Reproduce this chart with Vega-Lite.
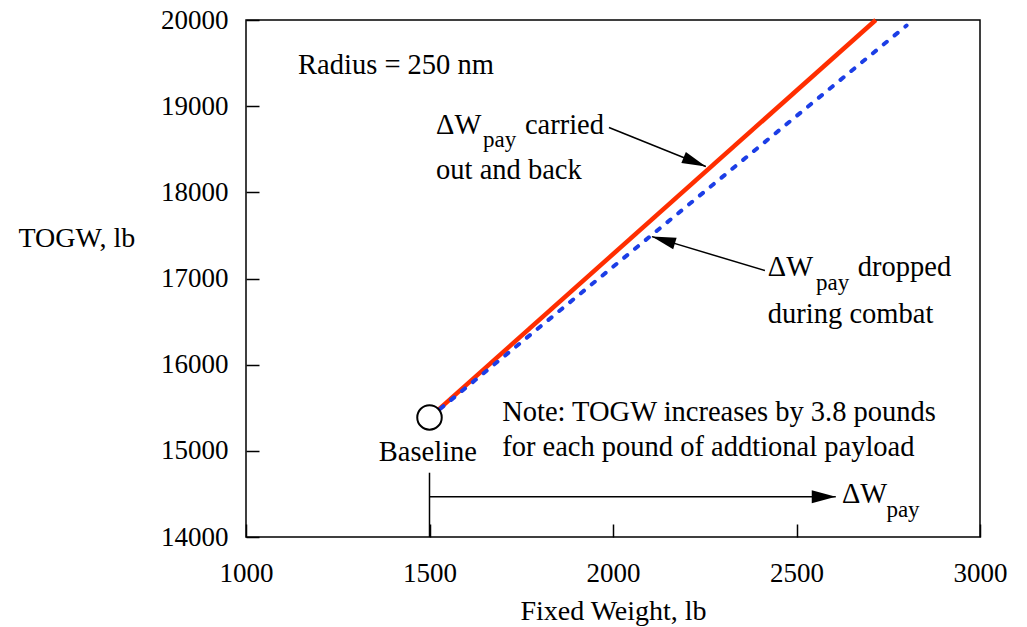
{
  "$schema": "https://vega.github.io/schema/vega-lite/v6.json",
  "width": 734,
  "height": 517,
  "autosize": {"type": "none"},
  "padding": {"left": 246, "top": 20, "right": 47, "bottom": 90},
  "background": "white",
  "config": {
    "view": {"stroke": "black", "strokeWidth": 1.5},
    "font": "Liberation Serif"
  },
  "datasets": {
    "lines": [
      {"series": "carried", "W": 1500, "TOGW": 15385},
      {"series": "carried", "W": 2716, "TOGW": 20000},
      {"series": "dropped", "W": 1500, "TOGW": 15385},
      {"series": "dropped", "W": 2800, "TOGW": 19936}
    ],
    "origin": [{"W": 1500, "TOGW": 15388}],
    "segments": [
      {"id": "a1", "W": 1989, "TOGW": 18752, "W2": 2253, "TOGW2": 18300},
      {"id": "a2", "W": 2414, "TOGW": 17092, "W2": 2106, "TOGW2": 17486},
      {"id": "a3", "W": 1500, "TOGW": 14468, "W2": 2607, "TOGW2": 14468},
      {"id": "v", "W": 1500, "TOGW": 14000, "W2": 1500, "TOGW2": 14746}
    ],
    "heads": [
      {"id": "a1", "W": 2253, "TOGW": 18300},
      {"id": "a2", "W": 2106, "TOGW": 17486},
      {"id": "a3", "W": 2607, "TOGW": 14468}
    ],
    "texts": [
      {"t": "Radius = 250 nm", "W": 1142, "TOGW": 19375},
      {"t": "ΔW", "W": 1518, "TOGW": 18679},
      {"t": "carried", "W": 1760, "TOGW": 18679},
      {"t": "out and back", "W": 1518, "TOGW": 18160},
      {"t": "ΔW", "W": 2422, "TOGW": 17025},
      {"t": "dropped", "W": 2667, "TOGW": 17025},
      {"t": "during combat", "W": 2422, "TOGW": 16488},
      {"t": "Note: TOGW increases by 3.8 pounds", "W": 1698, "TOGW": 15350},
      {"t": "for each pound of addtional payload", "W": 1698, "TOGW": 14944},
      {"t": "Baseline", "W": 1362, "TOGW": 14886},
      {"t": "ΔW", "W": 2624, "TOGW": 14395}
    ],
    "subs": [
      {"t": "pay", "W": 1646, "TOGW": 18523},
      {"t": "pay", "W": 2553, "TOGW": 16871},
      {"t": "pay", "W": 2745, "TOGW": 14228}
    ]
  },
  "encoding": {
    "x": {
      "field": "W",
      "type": "quantitative",
      "scale": {"domain": [1000, 3000], "nice": false, "zero": false},
      "axis": {
        "title": "Fixed Weight, lb",
        "values": [1000, 1500, 2000, 2500, 3000],
        "format": "d",
        "grid": false,
        "domain": false,
        "zindex": 1,
        "offset": -13,
        "tickColor": "black",
        "tickWidth": 1.5,
        "tickSize": 13,
        "labelPadding": 23,
        "labelFontSize": 27,
        "labelColor": "black",
        "labelFlush": false,
        "titleFontSize": 28,
        "titleFontWeight": "normal",
        "titleColor": "black",
        "titleBaseline": "alphabetic",
        "titleY": 95
      }
    },
    "y": {
      "field": "TOGW",
      "type": "quantitative",
      "scale": {"domain": [14000, 20000], "nice": false, "zero": false},
      "axis": {
        "title": "TOGW, lb",
        "values": [14000, 15000, 16000, 17000, 18000, 19000, 20000],
        "format": "d",
        "grid": false,
        "domain": false,
        "zindex": 1,
        "offset": -13,
        "tickColor": "black",
        "tickWidth": 1.5,
        "tickSize": 13,
        "labelPadding": 18,
        "labelFontSize": 27,
        "labelColor": "black",
        "labelFlush": false,
        "titleFontSize": 28,
        "titleFontWeight": "normal",
        "titleColor": "black",
        "titleAngle": 0,
        "titleAlign": "left",
        "titleBaseline": "alphabetic",
        "titleX": -241,
        "titleY": 226
      }
    }
  },
  "layer": [
    {
      "data": {"name": "lines"},
      "transform": [{"filter": "datum.series === 'carried'"}],
      "mark": {"type": "line", "color": "#ff2e00", "strokeWidth": 4.5}
    },
    {
      "data": {"name": "lines"},
      "transform": [{"filter": "datum.series === 'dropped'"}],
      "mark": {"type": "line", "color": "#1c3ee6", "strokeWidth": 4, "strokeDash": [4, 10], "strokeCap": "round"}
    },
    {
      "data": {"name": "origin"},
      "mark": {"type": "point", "shape": "circle", "size": 600, "filled": true, "fill": "white", "stroke": "black", "strokeWidth": 2, "opacity": 1}
    },
    {
      "data": {"name": "segments"},
      "mark": {"type": "rule", "color": "black", "strokeWidth": 1.5},
      "encoding": {
        "x2": {"field": "W2"},
        "y2": {"field": "TOGW2"}
      }
    },
    {
      "data": {"name": "heads"},
      "transform": [{"filter": "datum.id === 'a1'"}],
      "mark": {"type": "point", "shape": "M0,0L-2.45,-0.343L-2.0,-1.455Z", "size": 400, "filled": true, "color": "black", "opacity": 1}
    },
    {
      "data": {"name": "heads"},
      "transform": [{"filter": "datum.id === 'a2'"}],
      "mark": {"type": "point", "shape": "M0,0L2.471,0.114L2.127,1.264Z", "size": 400, "filled": true, "color": "black", "opacity": 1}
    },
    {
      "data": {"name": "heads"},
      "transform": [{"filter": "datum.id === 'a3'"}],
      "mark": {"type": "point", "shape": "M0,0L-2.4,-0.65L-2.4,0.65Z", "size": 400, "filled": true, "color": "black", "opacity": 1}
    },
    {
      "data": {"name": "texts"},
      "mark": {"type": "text", "align": "left", "baseline": "alphabetic", "font": "Liberation Serif", "fontSize": 28.5, "color": "black"},
      "encoding": {"text": {"field": "t"}}
    },
    {
      "data": {"name": "subs"},
      "mark": {"type": "text", "align": "left", "baseline": "alphabetic", "font": "Liberation Serif", "fontSize": 23, "color": "black"},
      "encoding": {"text": {"field": "t"}}
    }
  ]
}
